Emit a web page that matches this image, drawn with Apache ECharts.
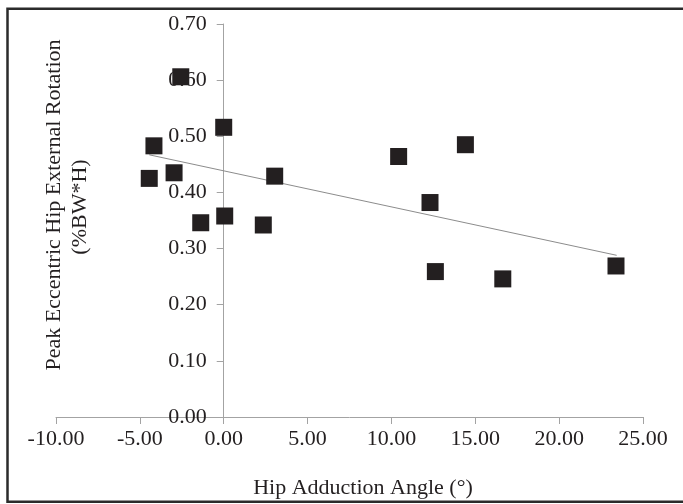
<!DOCTYPE html>
<html>
<head>
<meta charset="utf-8">
<script src="https://cdn.jsdelivr.net/npm/echarts@6/dist/echarts.min.js"></script>
<style>html,body{margin:0;padding:0;background:#fff;}#c{width:683px;height:504px;}</style>
</head>
<body>
<div id="c"></div>
<script>
var hipAdduction = [-2.56, 0.00, -4.16, -4.44, -2.96, 3.04, -1.37, 0.06, 2.36, 10.43, 14.41, 12.30, 12.62, 16.64, 23.39];
var peakRotation = [0.606, 0.516, 0.483, 0.425, 0.435, 0.429, 0.346, 0.358, 0.342, 0.464, 0.485, 0.382, 0.259, 0.246, 0.269];
var trendX = [-4.44, 23.43];
var trendY = [0.467, 0.288];
var xTitle = 'Hip Adduction Angle (°)';
var yTitle1 = 'Peak Eccentric Hip External Rotation';
var yTitle2 = '(%BW*H)';

var pts = hipAdduction.map(function (x, i) { return [x, peakRotation[i]]; });
var trend = trendX.map(function (x, i) { return [x, trendY[i]]; });
var font = '"Liberation Serif", "Times New Roman", serif';
var txt = '#231f20';

var gridLeft = 56, gridRight = 40, W = 683;
var xMin = -10, xMax = 25;
// shift the y axis so that it crosses the x axis at 0 (axis, ticks and labels)
var yAxisShift = (0 - xMin) / (xMax - xMin) * (W - gridLeft - gridRight);

var chart = echarts.init(document.getElementById('c'), null, {renderer: 'canvas'});
chart.setOption({
  animation: false,
  backgroundColor: '#fff',
  grid: {left: gridLeft, right: gridRight, top: 24, bottom: 87},
  xAxis: {
    type: 'value', min: xMin, max: xMax, interval: 5,
    axisLine: {onZero: false, lineStyle: {color: '#a3a3a3', width: 1}},
    axisTick: {show: true, length: 7, lineStyle: {color: '#a3a3a3'}},
    splitLine: {show: false},
    axisLabel: {margin: 11, color: txt, fontFamily: font, fontSize: 22,
      formatter: function (v) { return v.toFixed(2); }}
  },
  yAxis: {
    type: 'value', min: 0, max: 0.7, interval: 0.1,
    position: 'left', offset: -yAxisShift,
    axisLine: {show: true, onZero: false, lineStyle: {color: '#a3a3a3', width: 1}},
    axisTick: {show: true, length: 7, lineStyle: {color: '#a3a3a3'}},
    splitLine: {show: false},
    axisLabel: {margin: 17, color: txt, fontFamily: font, fontSize: 22,
      formatter: function (v) { return v.toFixed(2); }}
  },
  series: [
    {
      type: 'line', data: trend, symbol: 'none', silent: true,
      lineStyle: {color: '#8c8c8c', width: 1}, z: 1
    },
    {
      type: 'scatter', data: pts, symbol: 'rect', symbolSize: 17,
      itemStyle: {color: '#231f20', borderWidth: 0, opacity: 1}, z: 3
    }
  ],
  graphic: [
    {type: 'rect', shape: {x: 7.5, y: 8.7, width: 700, height: 493},
      style: {fill: 'none', stroke: '#2b2b2b', lineWidth: 2.5}, silent: true},
    {type: 'text', x: 363, y: 488, style: {text: xTitle, font: '22px ' + font, fill: txt, align: 'center', verticalAlign: 'middle'}},
    {type: 'text', x: 54, y: 205, rotation: Math.PI / 2, style: {text: yTitle1, font: '22px ' + font, fill: txt, align: 'center', verticalAlign: 'middle'}},
    {type: 'text', x: 80, y: 207, rotation: Math.PI / 2, style: {text: yTitle2, font: '22px ' + font, fill: txt, align: 'center', verticalAlign: 'middle'}}
  ]
});
</script>
</body>
</html>
